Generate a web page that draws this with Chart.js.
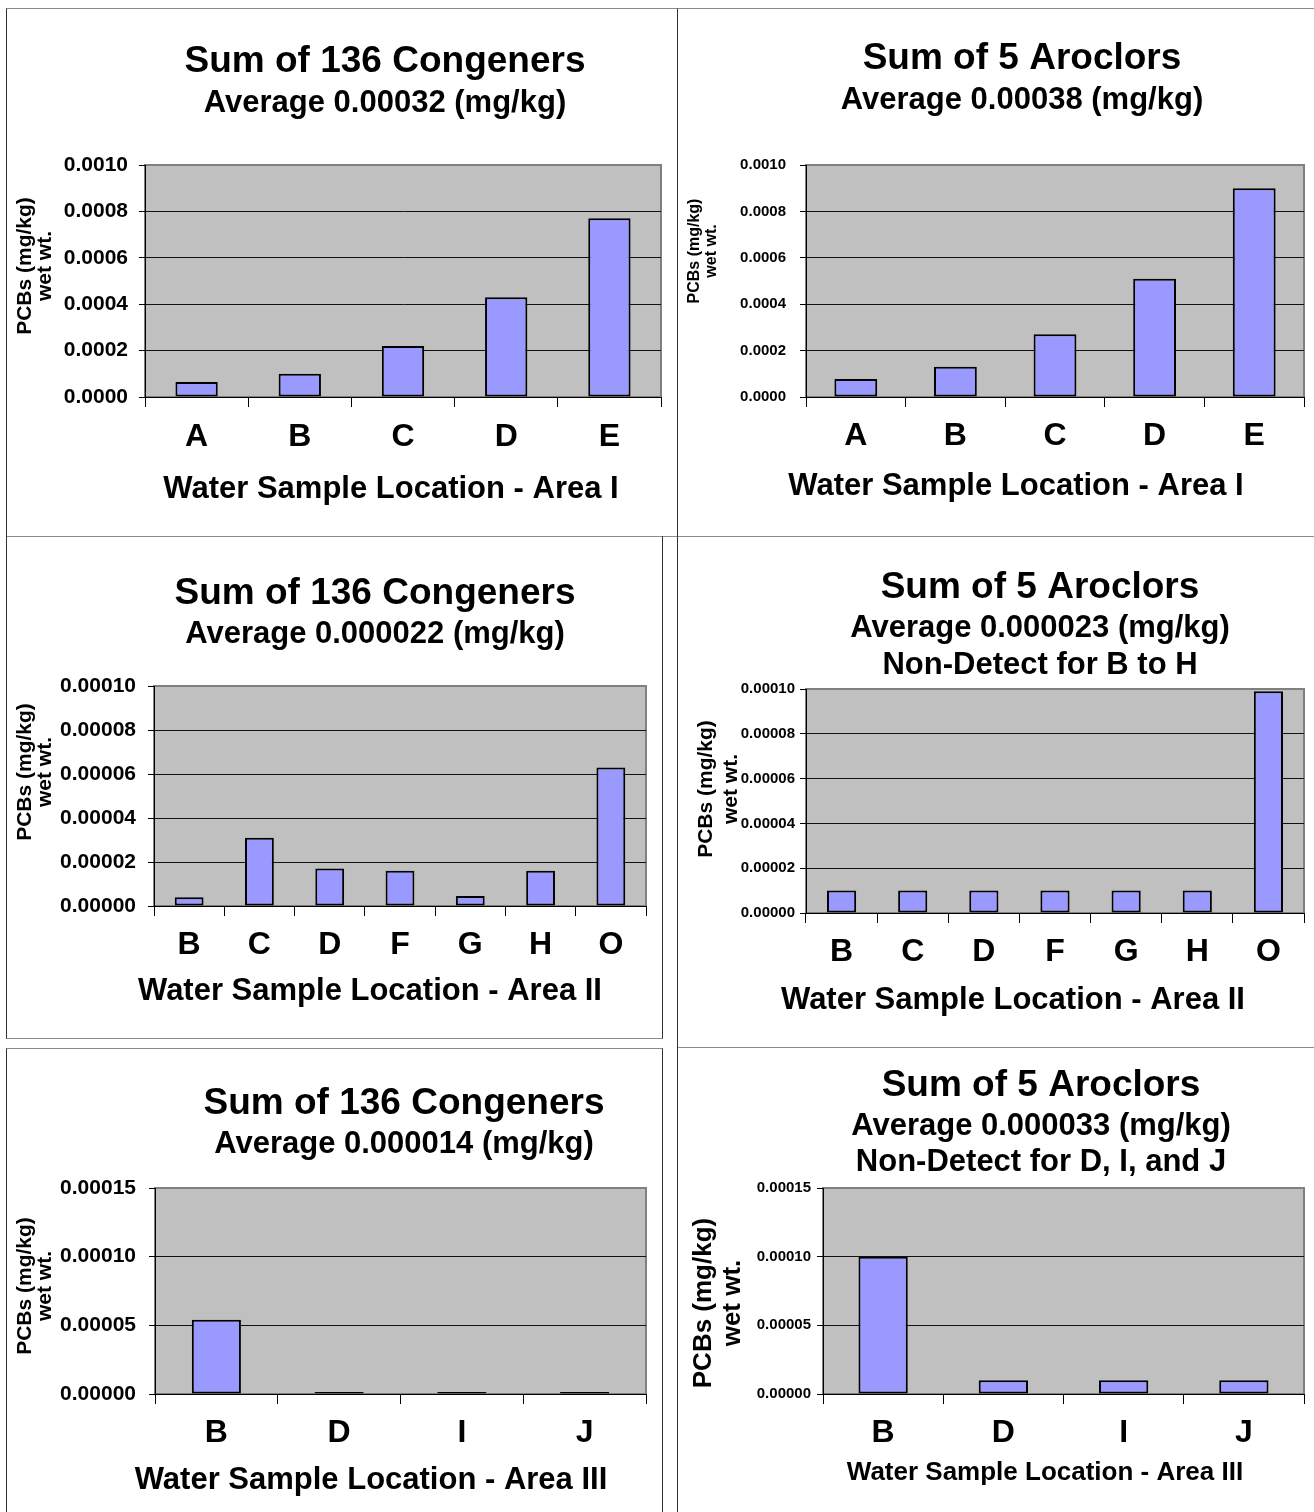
<!DOCTYPE html>
<html>
<head>
<meta charset="utf-8">
<script src="https://cdn.jsdelivr.net/npm/chart.js"></script>
<style>
  body { margin: 0; background: #fff; }
  #page { position: relative; width: 1314px; height: 1512px; overflow: hidden; }
  .box { position: absolute; box-sizing: border-box; border-top: 1px solid #8c8c8c; border-bottom: 1px solid #8c8c8c; border-left: 1px solid #333; }
  canvas { position: absolute; }
</style>
</head>
<body>
<div id="page">
  <div class="box" style="left:6px;top:8px;width:671px;height:529px"></div>
  <div class="box" style="left:677px;top:8px;width:660px;height:529px"></div>
  <div class="box" style="left:6px;top:536px;width:657px;height:503px;border-top:none;border-right:1px solid #333"></div>
  <div class="box" style="left:677px;top:536px;width:660px;height:512px;border-top:none"></div>
  <div class="box" style="left:6px;top:1048px;width:657px;height:480px;border-right:1px solid #333"></div>
  <div class="box" style="left:677px;top:1047px;width:660px;height:480px;border-top:none"></div>
  <canvas id="chart1"></canvas>
  <canvas id="chart2"></canvas>
  <canvas id="chart3"></canvas>
  <canvas id="chart4"></canvas>
  <canvas id="chart5"></canvas>
  <canvas id="chart6"></canvas>
</div>
<script>
const area1Labels = ["A", "B", "C", "D", "E"];
const area2Labels = ["B", "C", "D", "F", "G", "H", "O"];
const area3Labels = ["B", "D", "I", "J"];

const congenersArea1 = [0.000065, 0.0001, 0.00022, 0.00043, 0.00077];
const aroclorsArea1 = [0.000078, 0.00013, 0.00027, 0.00051, 0.0009];
const congenersArea2 = [0.000004, 0.000031, 0.000017, 0.000016, 0.0000045, 0.000016, 0.000063];
const aroclorsArea2 = [0.00001, 0.00001, 0.00001, 0.00001, 0.00001, 0.00001, 0.000099];
const congenersArea3 = [0.000054, 0, 0, 0];
const aroclorsArea3 = [0.0001, 0.00001, 0.00001, 0.00001];

const yTicksArea1 = [0, 0.0002, 0.0004, 0.0006, 0.0008, 0.001];
const yTicksArea2 = [0, 0.00002, 0.00004, 0.00006, 0.00008, 0.0001];
const yTicksArea3 = [0, 0.00005, 0.0001, 0.00015];

const congenersTitle = "Sum of 136 Congeners";
const aroclorsTitle = "Sum of 5 Aroclors";
const yTitle = ["PCBs (mg/kg)", "wet wt."];
const xTitleArea1 = "Water Sample Location - Area I";
const xTitleArea2 = "Water Sample Location - Area II";
const xTitleArea3 = "Water Sample Location - Area III";

const FONT = '"Liberation Sans", Arial, sans-serif';

// gray plot area with a thin gray frame, like the spreadsheet charts
const plotBack = {
  id: "plotBack",
  beforeDraw(chart) {
    const { ctx, chartArea: a } = chart;
    ctx.save();
    ctx.fillStyle = "#c0c0c0";
    ctx.fillRect(a.left, a.top, a.width, a.height);
    ctx.strokeStyle = "#808080";
    ctx.lineWidth = 2;
    ctx.strokeRect(a.left, a.top, a.width, a.height);
    ctx.restore();
  }
};

// titles in the source are not centred on the plot, shift them a bit
const shiftTitle = (scale, dx, dy) => {
  const base = Chart.Scale.prototype.drawTitle;
  scale.drawTitle = function () {
    this.left += dx; this.right += dx; this.top += dy; this.bottom += dy;
    base.call(this);
    this.left -= dx; this.right -= dx; this.top -= dy; this.bottom -= dy;
  };
};

const nudge = {
  id: "nudge",
  afterLayout(chart, args, opts) {
    chart.boxes.forEach(box => {
      if (box instanceof Chart.Scale) return;
      box.left += opts.title;
      box.right += opts.title;
    });
    shiftTitle(chart.scales.x, opts.xTitle, 0);
    shiftTitle(chart.scales.y, 0, opts.yTitle);
  }
};

const panels = [
  {
    id: "chart1", labels: area1Labels, values: congenersArea1, ticks: yTicksArea1, decimals: 4,
    title: congenersTitle, subtitle: ["Average 0.00032 (mg/kg)"], xTitle: xTitleArea1,
    canvas: [7, 9, 669, 526], plot: [145, 165, 661, 397], bar: 0.41,
    titleX: 385, titleY: 62, titleSize: 37, subY: 103, subSize: 31, subLH: 37,
    yTitleX: 25, yTitleY: 266, yTitleSize: 21, yTitleLH: 20, yTickSize: 21, yTickRight: 128,
    xTickY: 437, xTickSize: 32, xTitleX: 391, xTitleY: 489, xTitleSize: 31
  },
  {
    id: "chart2", labels: area1Labels, values: aroclorsArea1, ticks: yTicksArea1, decimals: 4,
    title: aroclorsTitle, subtitle: ["Average 0.00038 (mg/kg)"], xTitle: xTitleArea1,
    canvas: [678, 9, 636, 526], plot: [806, 165, 1304, 397], bar: 0.43,
    titleX: 1022, titleY: 59, titleSize: 37, subY: 100, subSize: 31, subLH: 37,
    yTitleX: 695, yTitleY: 251, yTitleSize: 16, yTitleLH: 17, yTickSize: 15, yTickRight: 786,
    xTickY: 436, xTickSize: 32, xTitleX: 1016, xTitleY: 486, xTitleSize: 31
  },
  {
    id: "chart3", labels: area2Labels, values: congenersArea2, ticks: yTicksArea2, decimals: 5,
    title: congenersTitle, subtitle: ["Average 0.000022 (mg/kg)"], xTitle: xTitleArea2,
    canvas: [7, 537, 655, 501], plot: [154, 686, 646, 906], bar: 0.41,
    titleX: 375, titleY: 594, titleSize: 37, subY: 634, subSize: 31, subLH: 37,
    yTitleX: 25, yTitleY: 772, yTitleSize: 21, yTitleLH: 20, yTickSize: 21, yTickRight: 136,
    xTickY: 945, xTickSize: 32, xTitleX: 370, xTitleY: 991, xTitleSize: 31
  },
  {
    id: "chart4", labels: area2Labels, values: aroclorsArea2, ticks: yTicksArea2, decimals: 5,
    title: aroclorsTitle, subtitle: ["Average 0.000023 (mg/kg)", "Non-Detect for B to H"], xTitle: xTitleArea2,
    canvas: [678, 537, 636, 510], plot: [806, 689, 1304, 913], bar: 0.41,
    titleX: 1040, titleY: 588, titleSize: 37, subY: 628, subSize: 31, subLH: 37,
    yTitleX: 706, yTitleY: 789, yTitleSize: 21, yTitleLH: 25, yTickSize: 15, yTickRight: 795,
    xTickY: 952, xTickSize: 32, xTitleX: 1013, xTitleY: 1000, xTitleSize: 31
  },
  {
    id: "chart5", labels: area3Labels, values: congenersArea3, ticks: yTicksArea3, decimals: 5,
    title: congenersTitle, subtitle: ["Average 0.000014 (mg/kg)"], xTitle: xTitleArea3,
    canvas: [7, 1049, 655, 463], plot: [155, 1188, 646, 1394], bar: 0.4,
    titleX: 404, titleY: 1104, titleSize: 37, subY: 1144, subSize: 31, subLH: 37,
    yTitleX: 25, yTitleY: 1286, yTitleSize: 21, yTitleLH: 20, yTickSize: 21, yTickRight: 136,
    xTickY: 1433, xTickSize: 32, xTitleX: 371, xTitleY: 1480, xTitleSize: 31
  },
  {
    id: "chart6", labels: area3Labels, values: aroclorsArea3, ticks: yTicksArea3, decimals: 5,
    title: aroclorsTitle, subtitle: ["Average 0.000033 (mg/kg)", "Non-Detect for D, I, and J"], xTitle: xTitleArea3,
    canvas: [678, 1048, 636, 464], plot: [823, 1188, 1304, 1394], bar: 0.41,
    titleX: 1041, titleY: 1086, titleSize: 37, subY: 1126, subSize: 31, subLH: 36,
    yTitleX: 704, yTitleY: 1303, yTitleSize: 26, yTitleLH: 29, yTickSize: 15, yTickRight: 811,
    xTickY: 1433, xTickSize: 32, xTitleX: 1045, xTitleY: 1473, xTitleSize: 26
  }
];

function makeChart(p) {
  const [cx, cy, cw, ch] = p.canvas;
  const [l, t, r, b] = p.plot;
  const el = document.getElementById(p.id);
  el.width = cw;
  el.height = ch;
  el.style.left = `${cx}px`;
  el.style.top = `${cy}px`;

  const padRight = cw - (r - cx);
  const titleLH = p.titleSize * 1.2;
  const titleTop = p.titleY - cy - titleLH / 2;
  const subTop = p.subY - cy - p.subLH / 2;
  const max = p.ticks[p.ticks.length - 1];
  const bold = (size, lineHeight) => ({ family: FONT, size, weight: "bold", lineHeight: lineHeight || 1.2 });

  return new Chart(el, {
    type: "bar",
    data: {
      labels: p.labels,
      datasets: [
        {
          data: p.values,
          backgroundColor: "#9999ff",
          borderColor: "#000",
          borderWidth: 2,
          borderSkipped: false,
          minBarLength: 2,
          barPercentage: p.bar,
          categoryPercentage: 1
        }
      ]
    },
    options: {
      responsive: false,
      animation: false,
      events: [],
      layout: { padding: { left: 0, top: 0, right: padRight, bottom: 0 } },
      plugins: {
        legend: { display: false },
        tooltip: { enabled: false },
        title: {
          display: true,
          text: p.title,
          color: "#000",
          font: bold(p.titleSize),
          padding: { top: titleTop, bottom: 0 }
        },
        subtitle: {
          display: true,
          text: p.subtitle,
          color: "#000",
          font: bold(p.subSize, p.subLH / p.subSize),
          padding: {
            top: subTop - (titleTop + titleLH),
            bottom: t - cy - (subTop + p.subtitle.length * p.subLH)
          }
        },
        nudge: {
          title: p.titleX - cx - (cw - padRight) / 2,
          xTitle: p.xTitleX - (l + r) / 2,
          yTitle: p.yTitleY - (t + b) / 2
        }
      },
      scales: {
        x: {
          grid: { display: true, drawOnChartArea: false, drawTicks: true, tickLength: 10, color: "#000", offset: true },
          border: { display: true, color: "#000", width: 1 },
          ticks: {
            color: "#000",
            font: bold(p.xTickSize),
            padding: p.xTickY - b - 10 - (p.xTickSize * 1.2) / 2,
            maxRotation: 0,
            autoSkip: false
          },
          title: {
            display: true,
            text: p.xTitle,
            color: "#000",
            font: bold(p.xTitleSize),
            padding: { top: 0, bottom: ch - (p.xTitleY - cy) - (p.xTitleSize * 1.2) / 2 }
          },
          afterFit: s => {
            s.height = ch - (b - cy);
          }
        },
        y: {
          min: 0,
          max,
          grid: {
            color: c => (c.tick && c.tick.value >= max * 0.999 ? "#808080" : "#111"),
            tickColor: "#000",
            tickLength: 6,
            drawTicks: true
          },
          border: { display: true, color: "#000", width: 1 },
          ticks: {
            stepSize: p.ticks[1] - p.ticks[0],
            color: "#000",
            font: bold(p.yTickSize),
            padding: l - 6 - p.yTickRight,
            autoSkip: false,
            callback: v => Number(v).toFixed(p.decimals)
          },
          title: {
            display: true,
            text: yTitle,
            color: "#000",
            font: bold(p.yTitleSize, p.yTitleLH / p.yTitleSize),
            padding: { top: p.yTitleX - cx - p.yTitleLH / 2, bottom: 0 }
          },
          afterFit: s => {
            s.width = l - cx;
          }
        }
      }
    },
    plugins: [plotBack, nudge]
  });
}

panels.forEach(makeChart);
</script>
</body>
</html>
